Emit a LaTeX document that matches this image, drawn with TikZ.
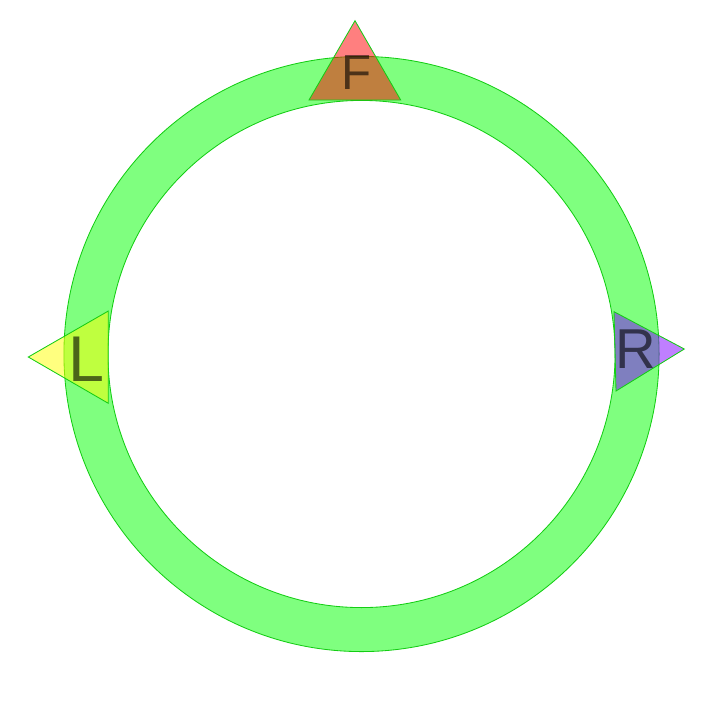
\documentclass[tikz,border=0pt]{standalone}
\usepackage{fontspec}
\setmainfont{Liberation Sans}
\definecolor{ringgreen}{RGB}{0,255,0}
\definecolor{ringline}{RGB}{20,205,20}
\definecolor{markred}{RGB}{255,0,0}
\definecolor{markyellow}{RGB}{255,255,0}
\definecolor{markviolet}{RGB}{128,0,255}

\begin{document}
\begin{tikzpicture}[x=0.025cm, y=-0.025cm,
  ring/.style={fill=ringgreen, fill opacity=0.5, even odd rule},
  edge/.style={draw=ringline, line width=0.6pt},
  tri/.style={edge, fill opacity=0.5},
  letter/.style={inner sep=0pt, text=black, text opacity=0.6}
]
\useasboundingbox (0,0) rectangle (722,706);
\coordinate (c) at (361.5,354);

% ring
\fill[ring] (c) circle (7.4375cm) (c) circle (6.3375cm);
\draw[edge] (c) circle (7.4375cm);
\draw[edge] (c) circle (6.3375cm);

% triangles
\draw[tri, fill=markred] (355,20.7) -- (309,100) -- (400.7,100) -- cycle;
\draw[tri, fill=markyellow] (28.3,357) -- (108.3,311) -- (108.3,403.3) -- cycle;
\draw[tri, fill=markviolet] (684.3,349) -- (614,311.7) -- (616,391) -- cycle;

\node[letter, font=\fontsize{35}{35}\selectfont] (front) at (356.5,72.5) {F};
\node[letter, font=\fontsize{46}{46}\selectfont] (left) at (86,359) {L};
\node[letter, font=\fontsize{40}{40}\selectfont] (right) at (635.5,349) {R};
\end{tikzpicture}
\end{document}
